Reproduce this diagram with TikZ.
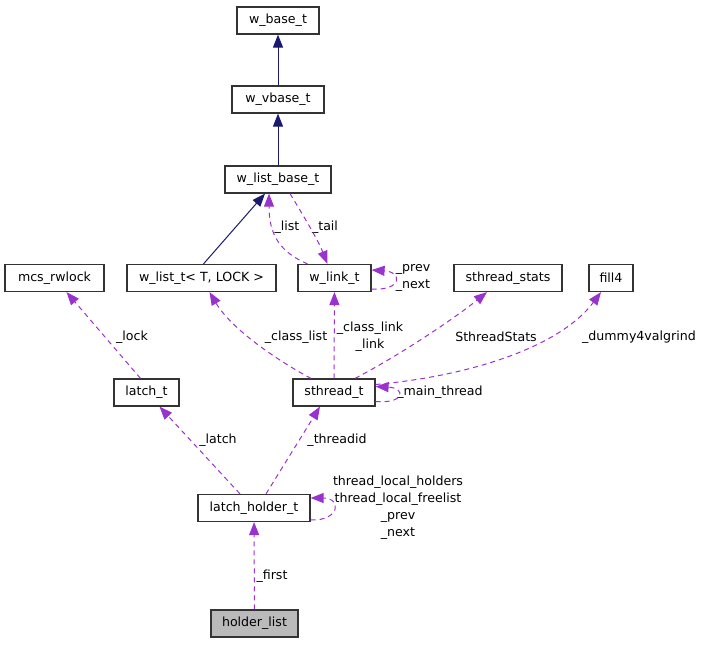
\documentclass[tikz,border=0pt]{standalone}
\usepackage{fontspec}
\setmainfont{DejaVu Sans}
\usepackage{tikz}
\usetikzlibrary{arrows.meta}

\definecolor{depcol}{HTML}{9A32CD}
\definecolor{inhcol}{HTML}{191970}

\begin{document}
\begin{tikzpicture}[x=1pt, y=-1pt,
  every node/.style={rectangle, draw=black!80, line width=1.2pt, fill=white, minimum height=27pt, inner sep=0pt, font=\fontsize{12.6}{17}\selectfont},
  lbl/.style={draw=none, fill=none, minimum height=0pt, align=center},
  inh/.style={draw=inhcol, line width=1pt, -{Triangle[length=13pt,width=10pt]}},
  dep/.style={draw=depcol, line width=1pt, dash pattern=on 5pt off 4pt, -{Triangle[length=13pt,width=10pt]}}]
			\useasboundingbox (0,0) rectangle (704,645);
			\node[minimum width=82pt] (wbase) at (278,20.5){w\_base\_t};
			\node[minimum width=92pt] (wvbase) at (278,99.5){w\_vbase\_t};
			\node[minimum width=106pt] (wlistbase) at (278,179.5){w\_list\_base\_t};
			\node[minimum width=99pt] (mcs) at (54.5,278){mcs\_rwlock};
			\node[minimum width=149pt] (wlist) at (201.5,278){w\_list\_t< T, LOCK >};
			\node[minimum width=73pt] (wlink) at (334.5,278){w\_link\_t};
			\node[minimum width=108pt] (stats) at (508,278){sthread\_stats};
			\node[minimum width=44pt] (fill) at (611,278){fill4};
			\node[minimum width=65pt] (latch) at (146.5,392.5){latch\_t};
			\node[minimum width=82pt] (sthread) at (334,392.5){sthread\_t};
			\node[minimum width=112pt] (lholder) at (254,508){latch\_holder\_t};
			\node[minimum width=87pt, fill=black!27] (hlist) at (254.5,623.5){holder\_list};
			
			\node[lbl] (t1) at (287,227){\_list};
			\node[lbl] (t2) at (325,227){\_tail};
			\node[lbl] (t3) at (413,277.5){\_prev\\\_next};
			\node[lbl] (t4) at (132,337){\_lock};
			\node[lbl] (t5) at (296,337){\_class\_list};
			\node[lbl] (t6) at (370,336.5){\_class\_link\\\_link};
			\node[lbl] (t7) at (496,337){SthreadStats};
			\node[lbl] (t8) at (639,337){\_dummy4valgrind};
			\node[lbl] (t9) at (440,392){\_main\_thread};
			\node[lbl] (t10) at (218,440){\_latch};
			\node[lbl] (t11) at (337,440){\_threadid};
			\node[lbl] (t12) at (398,508){thread\_local\_holders\\thread\_local\_freelist\\\_prev\\\_next};
			\node[lbl] (t13) at (272,576){\_first};
			
			\path (wvbase) edge[inh] (wbase);
			\path (wlistbase) edge[inh] (wvbase);
			\path ([xshift=2pt]wlist.north) edge[inh] ([xshift=-13pt]wlistbase.south);
			\draw[dep] ([xshift=-27pt]wlink.north) .. controls (280,252) and (269,235) .. ([xshift=-9pt]wlistbase.south);
			\draw[dep] ([xshift=12pt]wlistbase.south) .. controls (303,215) and (318,240) .. ([xshift=-7pt]wlink.north);
			\draw[dep] ([yshift=-11pt]wlink.east) .. controls (402,291) and (403,272) .. ([yshift=8pt]wlink.east);
			\path ([xshift=-6pt]latch.north) edge[dep] ([xshift=12pt]mcs.south);
			\draw[dep] ([xshift=-23pt]sthread.north) .. controls (280,362) and (232,330) .. ([xshift=8pt]wlist.south);
			\path (sthread) edge[dep] (wlink);
			\draw[dep] ([xshift=21pt]sthread.north) .. controls (400,355) and (455,318) .. ([xshift=-21pt]stats.south);
			\draw[dep] ([yshift=8pt]sthread.east) .. controls (470,376) and (560,347) .. ([xshift=-10pt]fill.south);
			\draw[dep] ([yshift=-9pt]sthread.east) .. controls (405,404) and (406,388) .. ([yshift=6pt]sthread.east);
			\path ([xshift=-14pt]lholder.north) edge[dep] ([xshift=13pt]latch.south);
			\path ([xshift=12pt]lholder.north) edge[dep] ([xshift=-14pt]sthread.south);
			\draw[dep] ([yshift=-12pt]lholder.east) .. controls (340,521) and (342,498) .. ([yshift=10pt]lholder.east);
			\path (hlist) edge[dep] (lholder);
			\end{tikzpicture}
\end{document}
